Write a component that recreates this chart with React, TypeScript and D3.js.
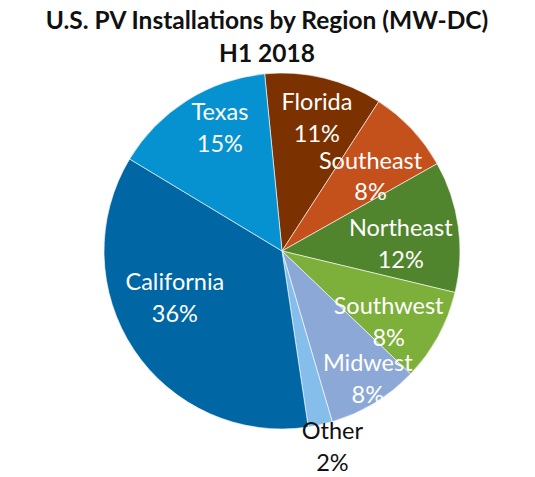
import React from "react";
import * as d3 from "d3";

const regions = ["Florida", "Southeast", "Northeast", "Southwest", "Midwest", "Other", "California", "Texas"];
const shares = [10.7, 7.7, 11.9, 8.4, 8.3, 2.2, 36.0, 14.8];
const shareLabels = ["11%", "8%", "12%", "8%", "8%", "2%", "36%", "15%"];
const colors = ["#7C3200", "#C4501C", "#50852D", "#7DB03A", "#8CA8D6", "#85BEEB", "#0067A4", "#0692D0"];
const titleLines = ["U.S. PV Installations by Region (MW-DC)", "H1 2018"];

// label layout: [radius, angle shift in degrees from slice mid]
const labelLayout: [number, number][] = [
  [138, 1], [116, 3], [119, 4.5], [128, 5], [154, -2.5], [202, -2], [117, 10], [138, 5.5],
];

const W = 535, H = 477;
const CX = 282, CY = 251, R = 178;
const START = (-5.6 * Math.PI) / 180;

export default function App() {
  const data = regions.map((r, i) => ({ region: r, value: shares[i], label: shareLabels[i], color: colors[i], i }));
  const pie = d3.pie<any>().sort(null).value((d) => d.value).startAngle(START).endAngle(START + 2 * Math.PI);
  const arcs = pie(data);
  const arc = d3.arc<any>().innerRadius(0).outerRadius(R);
  const font = "Lato, 'Open Sans', sans-serif";
  return (
    <svg width={W} height={H} style={{ position: "absolute", left: 0, top: 0, background: "#fff" }}>
      <g fontFamily={font} fontWeight="bold" fontSize={24.5} textAnchor="middle" fill="#111">
        <text x={267} y={29}>{titleLines[0]}</text>
        <text x={267} y={62}>{titleLines[1]}</text>
      </g>
      <g transform={`translate(${CX},${CY})`}>
        {arcs.map((a) => (
          <path key={a.data.region} d={arc(a) as string} fill={a.data.color} stroke="#fff" strokeWidth={0.6} />
        ))}
        {arcs.map((a) => {
          const [lr, shift] = labelLayout[a.data.i];
          const mid = (a.startAngle + a.endAngle) / 2 + (shift * Math.PI) / 180;
          const x = lr * Math.sin(mid);
          const y = -lr * Math.cos(mid);
          const fill = a.data.region === "Other" ? "#111" : "#fff";
          return (
            <text key={"l" + a.data.region} fontFamily={font} fontSize={23.5} textAnchor="middle" fill={fill}>
              <tspan x={x} y={y - 7.5}>{a.data.region}</tspan>
              <tspan x={x} y={y + 24}>{a.data.label}</tspan>
            </text>
          );
        })}
      </g>
    </svg>
  );
}
